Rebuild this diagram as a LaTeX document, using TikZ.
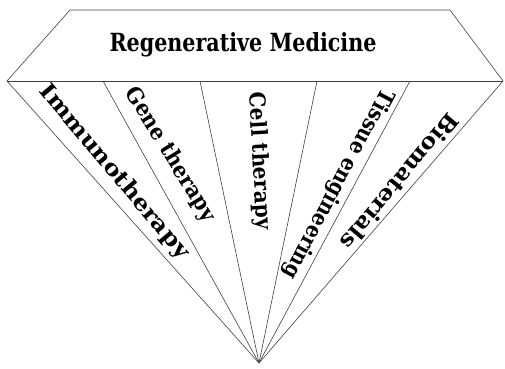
\documentclass[tikz,border=0pt]{standalone}
\usepackage{fontspec}
\setmainfont{DejaVu Serif}
\usetikzlibrary{calc}
% squeeze a label to a given width (in pt), keeping its height
\newlength{\lblwd}
\newcommand{\fitto}[2]{\settowidth{\lblwd}{#2}\pgfmathsetmacro{\lblsx}{#1/\lblwd}\scalebox{\lblsx}[1]{#2}}

\begin{document}
\begin{tikzpicture}[x=1pt, y=1pt,
  edge/.style={draw=black!75, line width=0.6pt},
  lbl/.style={font=\fontsize{22}{26}\selectfont\bfseries, inner sep=0pt},
  ttl/.style={lbl, font=\fontsize{25}{29}\selectfont\bfseries}
]
\useasboundingbox (0,0) rectangle (505,368);
% outline of the gem
\coordinate (tl) at (70,358);
\coordinate (tr) at (450,358);
\coordinate (lv) at (7,287);
\coordinate (rv) at (503,287);
\coordinate (apex) at (259,5);
\coordinate (d1) at (103,287);
\coordinate (d2) at (200,287);
\coordinate (d3) at (317,287);
\coordinate (d4) at (410,287);
\draw[edge] (tl) -- (tr) -- (rv) -- (apex) -- (lv) -- cycle;
\draw[edge] (lv) -- (rv);
\foreach \d in {d1,d2,d3,d4}
  \draw[edge] (\d) -- (apex);
% texts
\node[ttl] (regen) at (243,323) {\fitto{267}{Regenerative Medicine}};
\node[lbl, rotate=-50] (immuno) at (114,196) {\fitto{220}{Immunotherapy}};
\node[lbl, rotate=-58.4] (gene) at (170,213) {\fitto{153}{Gene therapy}};
\node[lbl, rotate=-86.7] (cell) at (259,207) {\fitto{137}{Cell therapy}};
\node[lbl, rotate=-118] (tissue) at (338,184) {\fitto{212}{Tissue engineering}};
\node[lbl, rotate=-130] (bio) at (400,186) {\fitto{170}{Biomaterials}};
\end{tikzpicture}
\end{document}
